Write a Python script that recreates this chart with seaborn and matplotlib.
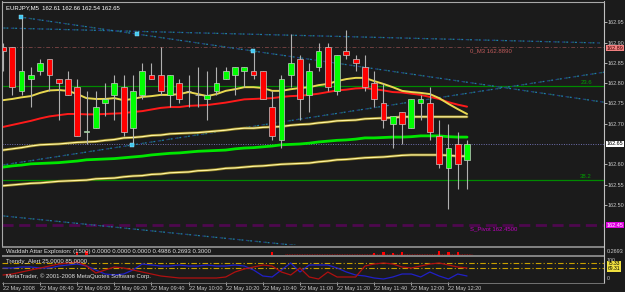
import numpy as np
import matplotlib
matplotlib.use("Agg")
import matplotlib.pyplot as plt
import matplotlib.transforms as mtransforms
from matplotlib.patches import Rectangle
import seaborn as sns

sns.set_theme(style="dark")
FONT = ['Liberation Sans', 'DejaVu Sans']
plt.rcParams['font.family'] = FONT

# ---------------- data ----------------
title_text = "EURJPY,M5  162.61 162.66 162.54 162.65"
time_labels = ["22 May 2008", "22 May 08:40", "22 May 09:00", "22 May 09:20",
               "22 May 09:40", "22 May 10:00", "22 May 10:20", "22 May 10:40",
               "22 May 11:00", "22 May 11:20", "22 May 11:40", "22 May 12:00",
               "22 May 12:20"]
time_label_bars = [0, 4, 8, 12, 16, 20, 24, 28, 32, 36, 40, 44, 48]

opens = [162.89, 162.89, 162.78, 162.81, 162.83, 162.86, 162.81, 162.81, 162.79, 162.68,
         162.69, 162.75, 162.77, 162.79, 162.69, 162.77, 162.82, 162.82, 162.77, 162.80,
         162.78, 162.77, 162.76, 162.78, 162.81, 162.82, 162.83, 162.83, 162.83, 162.74,
         162.66, 162.82, 162.86, 162.77, 162.84, 162.89, 162.78, 162.88, 162.86, 162.84,
         162.80, 162.75, 162.70, 162.73, 162.69, 162.75, 162.75, 162.67, 162.59, 162.65,
         162.61]
highs = [162.90, 162.89, 162.96, 162.84, 162.86, 162.86, 162.81, 162.83, 162.81, 162.78,
         162.78, 162.80, 162.82, 162.82, 162.82, 162.85, 162.85, 162.89, 162.82, 162.81,
         162.82, 162.84, 162.83, 162.84, 162.84, 162.84, 162.84, 162.88, 162.83, 162.78,
         162.82, 162.92, 162.87, 162.85, 162.90, 162.90, 162.87, 162.93, 162.87, 162.87,
         162.83, 162.80, 162.72, 162.73, 162.76, 162.77, 162.79, 162.71, 162.70, 162.68,
         162.66]
lows = [162.83, 162.77, 162.77, 162.74, 162.82, 162.78, 162.71, 162.77, 162.67, 162.65,
        162.69, 162.72, 162.71, 162.67, 162.65, 162.76, 162.81, 162.77, 162.74, 162.75,
        162.74, 162.74, 162.71, 162.77, 162.81, 162.77, 162.79, 162.81, 162.76, 162.66,
        162.64, 162.79, 162.71, 162.73, 162.83, 162.78, 162.77, 162.86, 162.83, 162.78,
        162.74, 162.69, 162.64, 162.65, 162.69, 162.71, 162.66, 162.59, 162.49, 162.54,
        162.54]
closes = [162.88, 162.79, 162.83, 162.82, 162.85, 162.82, 162.80, 162.77, 162.67, 162.68,
          162.74, 162.76, 162.80, 162.68, 162.78, 162.83, 162.81, 162.78, 162.82, 162.76,
          162.78, 162.77, 162.77, 162.80, 162.83, 162.84, 162.84, 162.82, 162.76, 162.67,
          162.81, 162.85, 162.76, 162.83, 162.88, 162.79, 162.87, 162.87, 162.85, 162.79,
          162.76, 162.71, 162.72, 162.70, 162.76, 162.76, 162.68, 162.60, 162.64, 162.60,
          162.65]

ma_fast = [162.758, 162.761, 162.765, 162.768, 162.776, 162.782, 162.783, 162.781, 162.773, 162.763,
           162.761, 162.761, 162.763, 162.758, 162.761, 162.766, 162.768, 162.771, 162.771, 162.773,
           162.778, 162.773, 162.768, 162.773, 162.781, 162.785, 162.790, 162.790, 162.788, 162.781,
           162.781, 162.785, 162.788, 162.790, 162.795, 162.798, 162.805, 162.810, 162.813, 162.813,
           162.805, 162.798, 162.790, 162.781, 162.778, 162.776, 162.773, 162.763, 162.749, 162.736,
           162.724]
ma_red = [162.692, 162.697, 162.702, 162.707, 162.713, 162.718, 162.721, 162.724, 162.724, 162.723,
          162.723, 162.724, 162.725, 162.726, 162.729, 162.731, 162.735, 162.739, 162.741, 162.741,
          162.744, 162.745, 162.746, 162.749, 162.752, 162.756, 162.760, 162.761, 162.762, 162.763,
          162.766, 162.768, 162.769, 162.771, 162.774, 162.778, 162.782, 162.784, 162.787, 162.788,
          162.785, 162.782, 162.778, 162.777, 162.774, 162.771, 162.766, 162.761, 162.753, 162.747,
          162.742]
band_upper = [162.635, 162.638, 162.641, 162.645, 162.648, 162.649, 162.650, 162.652, 162.654, 162.655,
              162.656, 162.659, 162.661, 162.665, 162.666, 162.668, 162.671, 162.672, 162.675, 162.676,
              162.677, 162.678, 162.680, 162.682, 162.684, 162.687, 162.689, 162.689, 162.691, 162.692,
              162.693, 162.696, 162.698, 162.699, 162.702, 162.704, 162.707, 162.708, 162.709, 162.712,
              162.713, 162.714, 162.715, 162.717, 162.717, 162.717, 162.717, 162.717, 162.717, 162.717,
              162.717]
ma_green = [162.593, 162.596, 162.598, 162.601, 162.602, 162.603, 162.604, 162.606, 162.608, 162.611,
            162.612, 162.613, 162.614, 162.616, 162.618, 162.620, 162.623, 162.625, 162.627, 162.628,
            162.630, 162.632, 162.633, 162.634, 162.635, 162.638, 162.640, 162.641, 162.643, 162.645,
            162.648, 162.649, 162.650, 162.652, 162.655, 162.657, 162.659, 162.660, 162.662, 162.665,
            162.665, 162.666, 162.667, 162.667, 162.668, 162.670, 162.670, 162.670, 162.668, 162.667,
            162.667]
band_lower = [162.547, 162.549, 162.551, 162.553, 162.554, 162.556, 162.558, 162.559, 162.560, 162.561,
              162.564, 162.565, 162.566, 162.569, 162.571, 162.572, 162.575, 162.576, 162.579, 162.580,
              162.581, 162.584, 162.585, 162.587, 162.590, 162.591, 162.593, 162.595, 162.596, 162.598,
              162.600, 162.601, 162.602, 162.603, 162.606, 162.608, 162.611, 162.612, 162.614, 162.616,
              162.617, 162.618, 162.620, 162.622, 162.623, 162.623, 162.623, 162.623, 162.622, 162.620,
              162.620]

# trend lines: (bar0, price0, bar1, price1)
trend_lines = [(-0.1, 162.936, 64.3, 162.899),
               (1.83, 162.963, 64.76, 162.753),
               (-0.1, 162.598, 64.76, 162.827),
               (-0.1, 162.473, 32.0, 162.399)]
anchor_bars = [1.9, 14.4, 26.9, 13.9]
anchor_prices = [162.963, 162.921, 162.879, 162.648]

price_ticks = [162.95, 162.90, 162.85, 162.80, 162.75, 162.70, 162.60, 162.55, 162.50]
current_price = 162.65
m3_level = 162.889
pivot_level = 162.45
fib_levels = [162.793, 162.561]
fib_names = ["23.6", "38.2"]

wae_bars = [8, 9, 29, 40, 41, 42, 43, 47, 48, 49]
wae_vals = [0.45, 0.55, 0.45, 0.35, 0.45, 0.35, 0.45, 0.6, 0.45, 0.4]
wae_text = "Waddah Attar Explosion: (1500) 0.0000 0.0000 0.0000 0.4986 0.2693 0.3000"

trendy_blue = [56, 56, 60, 60, 56, 56, 64, 68, 72, 64, 48, 32, 28, 32, 48, 72, 68, 64, 64, 68,
               64, 64, 68, 64, 64, 68, 64, 48, 24, 20, 48, 76, 40, 68, 68, 68, 56, 40, 28, 24,
               16, 12, 20, 32, 32, 20, 40, 24, 12, 32, 24]
trendy_red = [28, 32, 40, 48, 56, 64, 72, 76, 80, 64, 36, 48, 60, 56, 48, 40, 32, 24, 20, 16,
              16, 16, 16, 16, 20, 40, 52, 60, 68, 64, 40, 28, 56, 20, 12, 40, 20, 20, 20, 64,
              72, 76, 72, 60, 56, 64, 72, 76, 68, 60, 56]
trendy_levels = [76, 56]

# ---------------- layout ----------------
W, H = 625, 292
BG = '#1b1b1b'
TXT = '#c8c8c8'
FS = 4.3
XMIN, XMAX = -0.108, 64.76

fig = plt.figure(figsize=(W / 100, H / 100), dpi=100, facecolor=BG)


def rect(x0, y0, x1, y1):
    return [x0 / W, 1 - y1 / H, (x1 - x0) / W, (y1 - y0) / H]


ax = fig.add_axes(rect(2, 2, 604, 245))
ax1 = fig.add_axes(rect(2, 248, 604, 255))
ax2 = fig.add_axes(rect(2, 257, 604, 282))
for a in (ax, ax1, ax2):
    a.set_facecolor(BG)
    a.set_xlim(XMIN, XMAX)
    for s in a.spines.values():
        s.set_visible(False)
    a.grid(False)

ax.set_ylim(162.401, 163.0)
n = len(opens)
idx = np.arange(n)
o = np.array(opens); c = np.array(closes)
hi = np.array(highs); lo = np.array(lows)

# horizontal level lines
ax.axhline(current_price, color='#7070b0', lw=0.7, ls=(0, (1, 1.5)), zorder=1)
for lv in fib_levels:
    ax.axhline(lv, color='#008a00', lw=0.9, zorder=1)
ax.axhline(m3_level, color='#704040', lw=0.7, ls=(0, (4, 2, 1, 2)), zorder=1)
ax.axhline(pivot_level, color='#4e084e', lw=2.0, ls=(0, (4, 2)), zorder=1)

# trend lines (multicolour dotted)
for (b0, p0, b1, p1) in trend_lines:
    ax.plot([b0, b1], [p0, p1], color='#22358a', lw=0.9, ls=(0, (3, 4)), zorder=1)
    ax.plot([b0, b1], [p0, p1], color='#1f7fab', lw=0.9, ls=(3.5, (1.5, 5.5)), zorder=1)
    ax.plot([b0, b1], [p0, p1], color='#1f7a3c', lw=0.9, ls=(5.5, (1, 6)), zorder=1)
ax.scatter(anchor_bars, anchor_prices, marker='s', s=7, color='#40c8f0', edgecolors='#a0e8ff',
           linewidths=0.3, zorder=6)

# moving averages / bands via seaborn
for series in (band_lower, band_upper):
    sns.lineplot(x=idx, y=series, ax=ax, color='#8a7a20', linewidth=2.0, legend=False, zorder=2)
for series, col, lw in [(band_lower, '#fff5a0', 0.9), (band_upper, '#fff5a0', 0.9),
                        (ma_green, '#00e600', 2.0), (ma_red, '#ff1a1a', 1.4),
                        (ma_fast, '#e8d850', 1.4)]:
    sns.lineplot(x=idx, y=series, ax=ax, color=col, linewidth=lw, legend=False, zorder=3)

# candles
up = c >= o
ax.vlines(idx, lo, hi, colors='#b0b0b0', lw=0.8, zorder=4)
body_bottom = np.minimum(o, c)
body_h = np.maximum(np.abs(c - o), 0.0008)
body_cols = ['#00ff00' if u else '#ff0000' for u in up]
ax.bar(idx, body_h, bottom=body_bottom, width=0.62, color=body_cols,
       edgecolor='#c8c8c8', linewidth=0.5, zorder=5)

# axis labels on the right
ax.yaxis.tick_right()
ax.set_yticks(price_ticks)
ax.set_yticklabels([f"{t:.2f}" for t in price_ticks])
ax.tick_params(axis='y', right=True, left=False, length=2, width=0.6, color=TXT,
               labelcolor=TXT, labelsize=4.0, pad=0.8)
ax.set_xticks([])
ax.set_ylabel(''); ax.set_xlabel('')

trans_r = mtransforms.blended_transform_factory(ax.transAxes, ax.transData)
box = dict(boxstyle='square,pad=0.12', lw=0)
ax.text(1.004, current_price, f"{current_price:.2f}", transform=trans_r, fontsize=4.0,
        va='center', ha='left', color='black', bbox=dict(box, fc='white'), clip_on=False)
ax.text(1.004, m3_level - 0.003, f"{m3_level:.2f}", transform=trans_r, fontsize=4.0,
        va='center', ha='left', color='#400000', bbox=dict(box, fc='#f08080'), clip_on=False)
ax.text(1.004, pivot_level, f"{pivot_level:.2f}", transform=trans_r, fontsize=4.0,
        va='center', ha='left', color='white', bbox=dict(box, fc='#e000e0'), clip_on=False)

# in-chart labels
for lv, name in zip(fib_levels, fib_names):
    ax.text(0.98, lv + 0.003, name, transform=trans_r, fontsize=FS, color='#00a000',
            ha='right', va='bottom')
ax.text(50.3, m3_level - 0.004, f"0_M3 {m3_level:.4f}", fontsize=FS, color='#c05a5a',
        ha='left', va='top')
ax.text(50.3, pivot_level - 0.003, f"S_Pivot {pivot_level:.4f}", fontsize=FS, color='#c000c0',
        ha='left', va='top')
ax.text(0.006, 0.988, title_text, transform=ax.transAxes, fontsize=FS, color='white',
        ha='left', va='top')

# ---- Waddah Attar panel ----
ax1.set_ylim(0, 1)
ax1.bar(wae_bars, wae_vals, width=0.25, color='#ff0000', edgecolor='none', linewidth=0, zorder=3)
ax1.axhline(0.12, color='#a01010', lw=0.6, ls=(0, (1, 1)), xmin=0.47, xmax=0.78)
ax1.set_xticks([]); ax1.set_yticks([])
ax1.text(0.006, 0.5, wae_text, transform=ax1.transAxes, fontsize=FS, color='#e0e0e0',
         ha='left', va='center')
ax1.text(1.004, 0.45, "0.2693", transform=ax1.transAxes, fontsize=4.0, color=TXT,
         ha='left', va='center', clip_on=False)

# ---- Trendy alert panel ----
ax2.set_ylim(0, 100)
for lv in trendy_levels:
    ax2.axhline(lv, color='#c8a000', lw=0.8, ls=(0, (5, 2, 1, 2)), zorder=1)
sns.lineplot(x=idx, y=trendy_blue, ax=ax2, color='#2020c8', linewidth=0.9, legend=False, zorder=3)
sns.lineplot(x=idx, y=trendy_red, ax=ax2, color='#b01010', linewidth=0.9, legend=False, zorder=3)
ax2.set_yticks([])
ax2.set_ylabel(''); ax2.set_xlabel('')
ax2.text(0.006, 0.93, "Trendy_Alert 25.0000 85.0000", transform=ax2.transAxes, fontsize=FS,
         color='#e0e0e0', ha='left', va='top')
ax2.text(0.006, 0.25, "MetaTrader, \u00a9 2001-2008 MetaQuotes Software Corp.",
         transform=ax2.transAxes, fontsize=FS, color='#e0e0e0', ha='left', va='center')
ax2.text(1.004, 0.97, "100", transform=ax2.transAxes, fontsize=3.8, color=TXT,
         ha='left', va='top', clip_on=False)
ax2.text(1.006, 0.63, "75.33\n69.31", transform=ax2.transAxes, fontsize=3.6, color='black',
         ha='left', va='center', linespacing=0.9, clip_on=False,
         bbox=dict(boxstyle='square,pad=0.1', fc='#f0e040', lw=0))
ax2.text(1.004, 0.12, "0", transform=ax2.transAxes, fontsize=3.8, color=TXT,
         ha='left', va='center', clip_on=False)

ax2.set_xticks(time_label_bars)
ax2.set_xticklabels(time_labels)
for lab in ax2.get_xticklabels():
    lab.set_ha('left')
ax2.tick_params(axis='x', bottom=True, length=2, width=0.6, color=TXT, labelcolor=TXT,
                labelsize=3.95, pad=1)

# frame lines and panel separators
fig.add_artist(Rectangle((2 / W, 1 - 248 / H), 602 / W, 2.5 / H, transform=fig.transFigure,
                         color='#808080', lw=0))
fig.add_artist(Rectangle((2 / W, 1 - 257 / H), 602 / W, 2.0 / H, transform=fig.transFigure,
                         color='#808080', lw=0))
fig.add_artist(plt.Line2D([604 / W, 604 / W], [1 - 1 / H, 1 - 283 / H], color='#c0c0c0',
                          lw=0.8, transform=fig.transFigure))
fig.add_artist(plt.Line2D([2 / W, 604 / W], [1 - 1.5 / H, 1 - 1.5 / H], color='#a8a8a8',
                          lw=0.8, transform=fig.transFigure))
fig.add_artist(plt.Line2D([2 / W, 2 / W], [1 - 1 / H, 1 - 246 / H], color='#a8a8a8',
                          lw=0.8, transform=fig.transFigure))
fig.add_artist(plt.Line2D([2 / W, 604 / W], [1 - 282.5 / H, 1 - 282.5 / H], color='#808080',
                          lw=0.6, transform=fig.transFigure))

fig.savefig("out.png", dpi=100, facecolor=BG)
